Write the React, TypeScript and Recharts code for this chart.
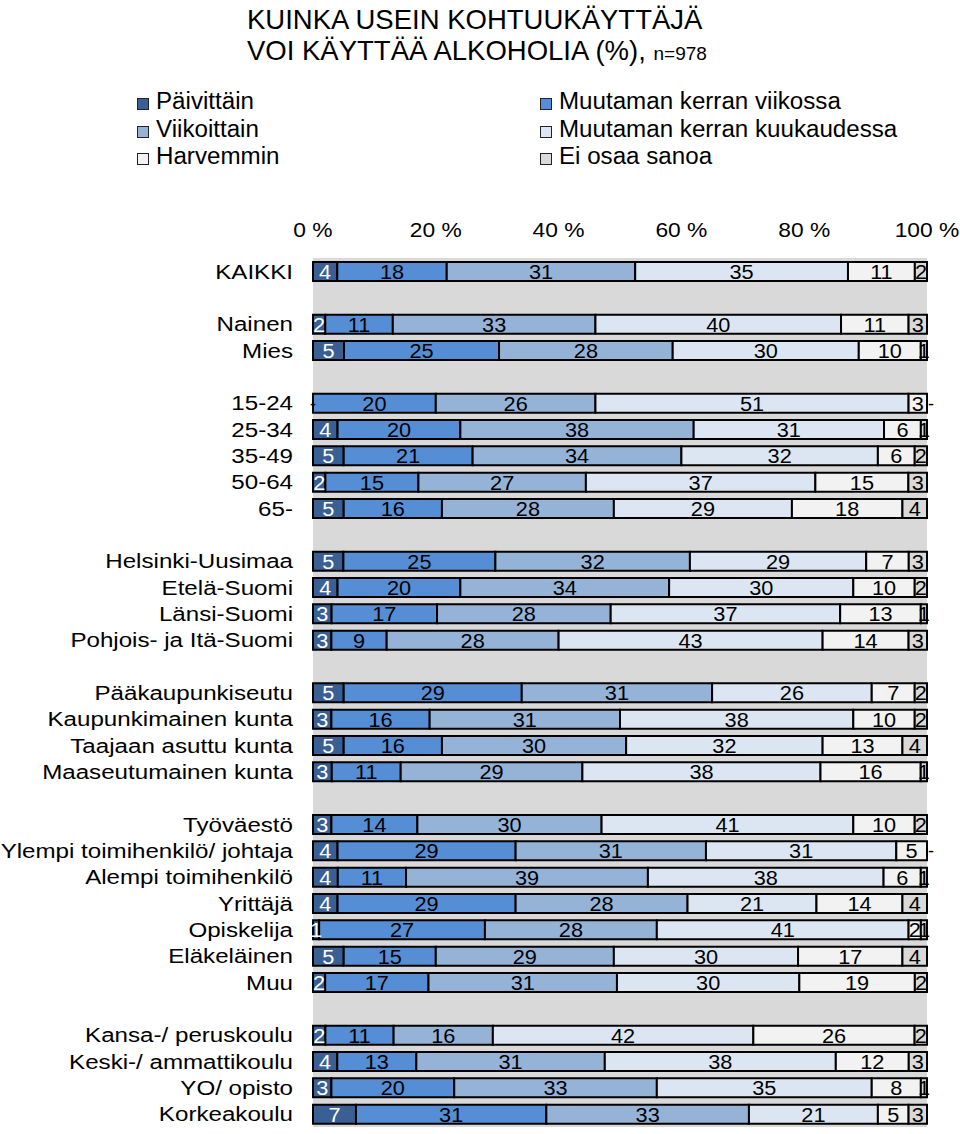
import React from "react";
import { BarChart, Bar, XAxis, YAxis, CartesianGrid, LabelList, Legend } from "recharts";

const categories = [
  "KAIKKI", "",
  "Nainen", "Mies", "",
  "15-24", "25-34", "35-49", "50-64", "65-", "",
  "Helsinki-Uusimaa", "Etelä-Suomi", "Länsi-Suomi", "Pohjois- ja Itä-Suomi", "",
  "Pääkaupunkiseutu", "Kaupunkimainen kunta", "Taajaan asuttu kunta", "Maaseutumainen kunta", "",
  "Työväestö", "Ylempi toimihenkilö/ johtaja", "Alempi toimihenkilö", "Yrittäjä", "Opiskelija", "Eläkeläinen", "Muu", "",
  "Kansa-/ peruskoulu", "Keski-/ ammattikoulu", "YO/ opisto", "Korkeakoulu",
];

const paivittain = [4, null, 2, 5, null, 0, 4, 5, 2, 5, null, 5, 4, 3, 3, null, 5, 3, 5, 3, null, 3, 4, 4, 4, 1, 5, 2, null, 2, 4, 3, 7];
const viikossa = [18, null, 11, 25, null, 20, 20, 21, 15, 16, null, 25, 20, 17, 9, null, 29, 16, 16, 11, null, 14, 29, 11, 29, 27, 15, 17, null, 11, 13, 20, 31];
const viikoittain = [31, null, 33, 28, null, 26, 38, 34, 27, 28, null, 32, 34, 28, 28, null, 31, 31, 30, 29, null, 30, 31, 39, 28, 28, 29, 31, null, 16, 31, 33, 33];
const kuukaudessa = [35, null, 40, 30, null, 51, 31, 32, 37, 29, null, 29, 30, 37, 43, null, 26, 38, 32, 38, null, 41, 31, 38, 21, 41, 30, 30, null, 42, 38, 35, 21];
const harvemmin = [11, null, 11, 10, null, 3, 6, 6, 15, 18, null, 7, 10, 13, 14, null, 7, 10, 13, 16, null, 10, 5, 6, 14, 2, 17, 19, null, 26, 12, 8, 5];
const eiosaa = [2, null, 3, 1, null, 0, 1, 2, 3, 4, null, 3, 2, 1, 3, null, 2, 2, 4, 1, null, 2, 0, 1, 4, 1, 4, 2, null, 2, 3, 1, 3];

const xTicks = [0, 0.2, 0.4, 0.6, 0.8, 1];

const series = [
  { key: "paivittain", name: "Päivittäin", values: paivittain, color: "#3a5f94", text: "#ffffff" },
  { key: "viikossa", name: "Muutaman kerran viikossa", values: viikossa, color: "#558ed5", text: "#000000" },
  { key: "viikoittain", name: "Viikoittain", values: viikoittain, color: "#95b3d7", text: "#000000" },
  { key: "kuukaudessa", name: "Muutaman kerran kuukaudessa", values: kuukaudessa, color: "#dce6f2", text: "#000000" },
  { key: "harvemmin", name: "Harvemmin", values: harvemmin, color: "#f2f2f2", text: "#000000" },
  { key: "eiosaa", name: "Ei osaa sanoa", values: eiosaa, color: "#d9d9d9", text: "#000000" },
];

const data = categories.map((name, i) => {
  const row: any = { name, idx: i };
  series.forEach((s) => {
    row[s.key] = s.values[i];
  });
  return row;
});

const FONT = "'Liberation Sans', Arial, sans-serif";

const CatTick = (props: any) => {
  const { x, y, payload } = props;
  return (
    <text
      transform={`translate(${x},${y}) scale(1.15,1)`}
      textAnchor="end"
      dy="0.36em"
      fontSize={21}
      fontFamily={FONT}
      fill="#000"
    >
      {payload.value}
    </text>
  );
};

const PctTick = (props: any) => {
  const { x, y, payload } = props;
  return (
    <text
      transform={`translate(${x},${y}) scale(1.14,1)`}
      textAnchor="middle"
      fontSize={20}
      fontFamily={FONT}
      fill="#000"
    >
      {`${Math.round(payload.value * 100)} %`}
    </text>
  );
};

const rowIndexFromY = (y: number, h: number, plotTop: number, band: number) =>
  Math.round((y + h / 2 - plotTop - band / 2) / band);

const makeLabel = (si: number) => (props: any) => {
  const { x, y, width, height, value } = props;
  if (value === null || value === undefined) return null;
  const s = series[si];
  const cx = Number(x) + Number(width) / 2;
  const cy = Number(y) + Number(height) / 2;
  const index = rowIndexFromY(Number(y), Number(height), 258, 869 / categories.length);
  const next = si < series.length - 1 ? series[si + 1].values[index] : null;
  const prev = si > 0 ? series[si - 1].values[index] : null;
  return (
    <g>
      {value !== 0 && (
        <text
          transform={`translate(${cx},${cy}) scale(1.06,1)`}
          textAnchor="middle"
          dy="0.36em"
          fontSize={20.5}
          fontFamily={FONT}
          fill={s.text}
        >
          {value}
        </text>
      )}
      {next === 0 && si === series.length - 2 && (
        <text x={Number(x) + Number(width) + 1} y={cy} dy="0.36em" fontSize={18} fontFamily={FONT} fill="#000">
          -
        </text>
      )}
      {prev === 0 && si === 1 && (
        <text x={Number(x)} y={cy} dy="0.36em" textAnchor="middle" fontSize={18} fontFamily={FONT} fill="#000">
          -
        </text>
      )}
    </g>
  );
};

const legendPos = [
  { left: 137, top: 0 },
  { left: 540, top: 0 },
  { left: 137, top: 27.5 },
  { left: 540, top: 27.5 },
  { left: 137, top: 55 },
  { left: 540, top: 55 },
];

const LegendContent = () => (
  <div style={{ position: "relative", width: 960, height: 90, fontFamily: FONT }}>
    {series.map((s, i) => (
      <div
        key={s.key}
        style={{
          position: "absolute",
          left: legendPos[i].left,
          top: legendPos[i].top,
          height: 28,
          lineHeight: "28px",
          fontSize: 23,
          whiteSpace: "nowrap",
          color: "#000",
        }}
      >
        <span
          style={{
            position: "absolute",
            left: 0,
            top: 11,
            width: 10,
            height: 10,
            background: s.color,
            border: "1.5px solid #222",
          }}
        />
        <span style={{ position: "absolute", left: 19, top: 0, display: "inline-block", transform: "scaleX(1.05)", transformOrigin: "left center" }}>
          {s.name}
        </span>
      </div>
    ))}
  </div>
);

export default function App() {
  return (
    <div style={{ position: "absolute", left: 0, top: 0, width: 960, height: 1134, background: "#fff", fontFamily: FONT }}>
      <div
        style={{
          position: "absolute",
          left: 247,
          top: 4,
          fontSize: 27.5,
          lineHeight: "31px",
          color: "#000",
          whiteSpace: "nowrap",
        }}
      >
        <div>KUINKA USEIN KOHTUUKÄYTTÄJÄ</div>
        <div>
          VOI KÄYTTÄÄ ALKOHOLIA (%), <span style={{ fontSize: 19 }}>n=978</span>
        </div>
      </div>
      <BarChart
        width={960}
        height={1134}
        data={data}
        layout="vertical"
        stackOffset="expand"
        barSize={19}
        margin={{ top: 228, right: 33, bottom: 7, left: 13 }}
      >
        <CartesianGrid fill="#d9d9d9" horizontal={false} vertical={false} />
        <XAxis
          type="number"
          orientation="top"
          domain={[0, 1]}
          ticks={xTicks}
          interval={0}
          axisLine={false}
          tickLine={false}
          tickSize={0}
          tickMargin={21}
          height={30}
          tick={<PctTick />}
        />
        <YAxis
          type="category"
          dataKey="idx"
          width={300}
          interval={0}
          axisLine={false}
          tickLine={false}
          tickSize={0}
          tickMargin={20}
          tickFormatter={(v: any) => categories[v]}
          tick={(p: any) => <CatTick {...p} payload={{ ...p.payload, value: categories[p.payload.value] }} />}
        />
        <Legend
          layout="vertical"
          align="center"
          verticalAlign="middle"
          wrapperStyle={{ top: 87, left: 0, width: 960, height: 90 }}
          content={<LegendContent />}
        />
        {series.map((s, si) => (
          <Bar
            key={s.key}
            dataKey={s.key}
            name={s.name}
            stackId="a"
            fill={s.color}
            stroke="#000"
            strokeWidth={2}
            isAnimationActive={false}
          >
            <LabelList dataKey={s.key} content={makeLabel(si)} />
          </Bar>
        ))}
      </BarChart>
    </div>
  );
}
